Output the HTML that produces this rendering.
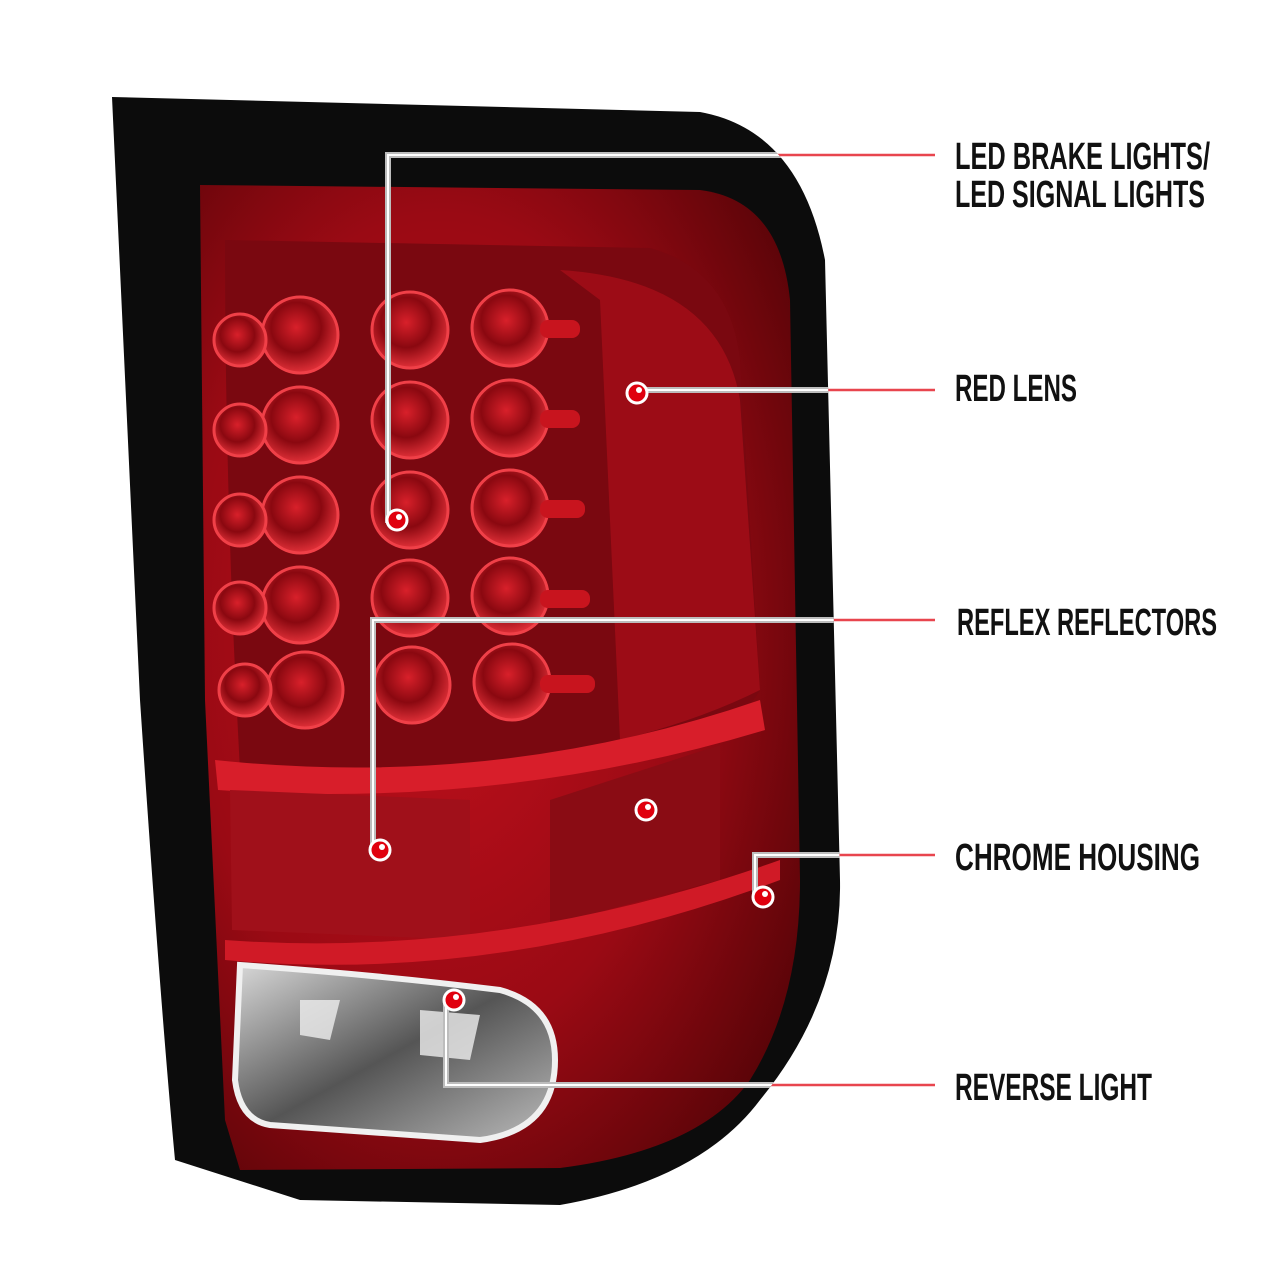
<!DOCTYPE html>
<html><head><meta charset="utf-8"><style>
html,body{margin:0;padding:0;background:#fff;}
svg{display:block}
</style></head><body>
<svg width="1280" height="1280" viewBox="0 0 1280 1280" xmlns="http://www.w3.org/2000/svg">
<defs>
<radialGradient id="lens" cx="0.4" cy="0.45" r="0.7">
<stop offset="0" stop-color="#c0101c"/><stop offset="0.6" stop-color="#9a0a14"/><stop offset="1" stop-color="#5a0408"/>
</radialGradient>
<radialGradient id="led" cx="0.45" cy="0.4" r="0.6">
<stop offset="0" stop-color="#d8202a"/><stop offset="0.55" stop-color="#8a0810"/><stop offset="1" stop-color="#e03038"/>
</radialGradient>
<linearGradient id="rev" x1="0" y1="0" x2="1" y2="1">
<stop offset="0" stop-color="#d8d8d8"/><stop offset="0.5" stop-color="#555"/><stop offset="1" stop-color="#bbb"/>
</linearGradient>
<clipPath id="house"><path d="M112,97 L700,112 Q800,130 825,260 L840,880 Q842,1000 760,1100 Q700,1180 560,1205 L300,1200 L175,1160 Q160,1000 140,700 Z"/></clipPath>
</defs>
<path d="M112,97 L700,112 Q800,130 825,260 L840,880 Q842,1000 760,1100 Q700,1180 560,1205 L300,1200 L175,1160 Q160,1000 140,700 Z" fill="#0c0c0c"/>
<path d="M200,185 L700,190 Q780,200 790,300 L800,880 Q800,1000 750,1080 Q700,1150 560,1168 L240,1170 L225,1120 L205,700 Z" fill="url(#lens)"/>
<path d="M225,240 L650,248 Q730,270 740,360 L760,690 Q720,760 560,768 L240,770 Q225,500 225,240 Z" fill="#7a0810"/>
<path d="M560,270 Q720,280 740,400 L760,690 Q700,720 620,740 L600,300 Z" fill="#a50e18" opacity="0.8"/>
<g>
<g fill="url(#led)" stroke="#f04048" stroke-width="3">
<circle cx="300" cy="335" r="38"/><circle cx="410" cy="330" r="38"/><circle cx="510" cy="328" r="38"/>
<circle cx="300" cy="425" r="38"/><circle cx="410" cy="420" r="38"/><circle cx="510" cy="418" r="38"/>
<circle cx="300" cy="515" r="38"/><circle cx="410" cy="510" r="38"/><circle cx="510" cy="508" r="38"/>
<circle cx="300" cy="605" r="38"/><circle cx="410" cy="598" r="38"/><circle cx="510" cy="596" r="38"/>
<circle cx="305" cy="690" r="38"/><circle cx="412" cy="685" r="38"/><circle cx="512" cy="682" r="38"/>
<circle cx="240" cy="340" r="26"/><circle cx="240" cy="430" r="26"/><circle cx="240" cy="520" r="26"/><circle cx="240" cy="608" r="26"/><circle cx="245" cy="690" r="26"/>
</g>
<g fill="#c8141e"><rect x="540" y="320" width="40" height="18" rx="8"/><rect x="540" y="410" width="40" height="18" rx="8"/><rect x="540" y="500" width="45" height="18" rx="8"/><rect x="540" y="590" width="50" height="18" rx="8"/><rect x="540" y="675" width="55" height="18" rx="8"/></g>
</g>
<path d="M215,760 Q500,790 760,700 L765,730 Q500,810 218,790 Z" fill="#d81e2a"/>
<path d="M230,790 L470,800 L470,940 L232,930 Z" fill="#a0101a"/>
<path d="M550,800 L720,745 L720,880 L550,925 Z" fill="#8a0c14"/>
<path d="M225,940 Q500,960 780,860 L780,880 Q500,985 225,960 Z" fill="#d01a26"/>
<path d="M240,965 Q380,975 500,990 Q555,1005 555,1060 Q555,1130 480,1140 L270,1125 Q240,1120 235,1080 Z" fill="url(#rev)" stroke="#f0f0f0" stroke-width="6"/>
<path d="M300,1000 L340,1000 L330,1040 L300,1035 Z M420,1010 L480,1015 L470,1060 L420,1055 Z" fill="#eee" opacity="0.8"/>
<g stroke="#e8454e" stroke-width="2.5" fill="none">
<line x1="388" y1="155" x2="935" y2="155"/>
<line x1="640" y1="390" x2="935" y2="390"/>
<line x1="373" y1="620" x2="935" y2="620"/>
<line x1="755" y1="855" x2="935" y2="855"/>
<line x1="446" y1="1085" x2="935" y2="1085"/>
</g>
<g clip-path="url(#house)" fill="none">
<g stroke="#bdbdbd" stroke-width="6">
<polyline points="397,520 388,520 388,155 935,155"/>
<polyline points="640,390 935,390"/>
<polyline points="380,850 373,850 373,620 935,620 M640,620 640,810"/>
<polyline points="763,897 755,897 755,855 935,855"/>
<polyline points="454,1000 446,1000 446,1085 935,1085"/>
</g>
<g stroke="#fff" stroke-width="2">
<polyline points="388,520 388,155 935,155"/>
<polyline points="640,390 935,390"/>
<polyline points="373,850 373,620 935,620 M640,620 640,810"/>
<polyline points="755,897 755,855 935,855"/>
<polyline points="446,1000 446,1085 935,1085"/>
</g>
</g>
<g fill="#e0000e" stroke="#fff" stroke-width="3">
<circle cx="397" cy="520" r="10"/><circle cx="637" cy="393" r="10"/><circle cx="380" cy="850" r="10"/><circle cx="646" cy="810" r="10"/><circle cx="763" cy="897" r="10"/><circle cx="454" cy="1000" r="10"/>
</g>
<g fill="#fff"><circle cx="399" cy="517" r="3"/><circle cx="639" cy="390" r="3"/><circle cx="382" cy="847" r="3"/><circle cx="648" cy="807" r="3"/><circle cx="765" cy="894" r="3"/><circle cx="456" cy="997" r="3"/></g>
<g font-family="'Liberation Sans Narrow','Liberation Sans',sans-serif" font-size="38" font-weight="bold" fill="#111">
<text x="955" y="169" textLength="255" lengthAdjust="spacingAndGlyphs">LED BRAKE LIGHTS/</text>
<text x="955" y="207" textLength="250" lengthAdjust="spacingAndGlyphs">LED SIGNAL LIGHTS</text>
<text x="955" y="401" textLength="122" lengthAdjust="spacingAndGlyphs">RED LENS</text>
<text x="957" y="635" textLength="260" lengthAdjust="spacingAndGlyphs">REFLEX REFLECTORS</text>
<text x="955" y="870" textLength="245" lengthAdjust="spacingAndGlyphs">CHROME HOUSING</text>
<text x="955" y="1100" textLength="197" lengthAdjust="spacingAndGlyphs">REVERSE LIGHT</text>
</g>
</svg>
</body></html>
